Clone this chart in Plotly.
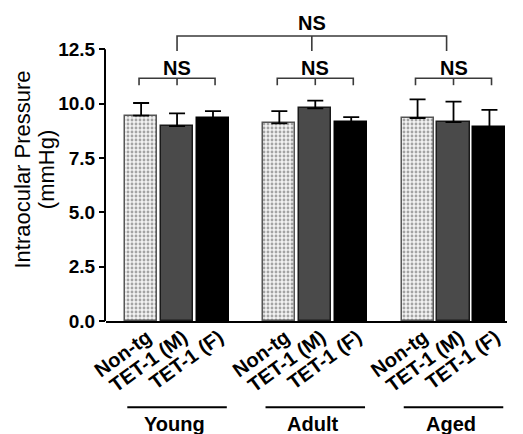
import plotly.graph_objects as go

# ---- data ----
groups = ["Young", "Adult", "Aged"]
series = ["Non-tg", "TET-1 (M)", "TET-1 (F)"]
means = {
    "Non-tg":    [9.45, 9.09, 9.34],
    "TET-1 (M)": [8.97, 9.78, 9.15],
    "TET-1 (F)": [9.34, 9.15, 8.92],
}
sems = {
    "Non-tg":    [0.58, 0.57, 0.86],
    "TET-1 (M)": [0.58, 0.36, 0.94],
    "TET-1 (F)": [0.32, 0.23, 0.79],
}
y_ticks = [0, 2.5, 5.0, 7.5, 10.0, 12.5]
y_ticklabels = ["0.0", "2.5", "5.0", "7.5", "10.0", "12.5"]
sig_label = "NS"
inner_bracket_y = 11.17
outer_bracket_y = 13.11

# ---- layout helpers (positions) ----
step = 0.26
bar_w = 0.232
styles = {
    "Non-tg": dict(color="#f2f2f2", line=dict(color="#555555", width=1.5),
                   pattern=dict(shape=".", fgcolor="#555555", bgcolor="#f2f2f2",
                                size=4, solidity=0.4)),
    "TET-1 (M)": dict(color="#4a4a4a", line=dict(color="#1a1a1a", width=1.5)),
    "TET-1 (F)": dict(color="#000000", line=dict(color="#000000", width=1.5)),
}
FONT = "Liberation Sans, Arial, sans-serif"

fig = go.Figure()
tickvals, ticktext = [], []
for i, s in enumerate(series):
    xs = [g + (i - 1) * step for g in range(len(groups))]
    tickvals += xs
    ticktext += [s] * len(groups)
    fig.add_trace(go.Bar(
        x=xs, y=means[s], width=bar_w, name=s,
        marker=styles[s],
        error_y=dict(type="data", symmetric=False, array=sems[s],
                     arrayminus=[0] * len(groups), color="#000000",
                     thickness=1.8, width=8),
        showlegend=False,
    ))

shapes = []
line_style = dict(color="#3a3a3a", width=1.6)
# inner brackets
for g in range(len(groups)):
    l, r = g - 0.275, g + 0.275
    y0 = inner_bracket_y - 0.32
    shapes.append(dict(type="path", xref="x", yref="y",
                       path=f"M {l},{y0} L {l},{inner_bracket_y} L {r},{inner_bracket_y} L {r},{y0}",
                       line=line_style))
    shapes.append(dict(type="line", xref="x", yref="y", x0=g, x1=g,
                       y0=y0, y1=inner_bracket_y, line=line_style))
# outer bracket
ol, orr = 0, 1.95
oy0 = outer_bracket_y - 0.69
shapes.append(dict(type="path", xref="x", yref="y",
                   path=f"M {ol},{oy0} L {ol},{outer_bracket_y} L {orr},{outer_bracket_y} L {orr},{oy0}",
                   line=line_style))
shapes.append(dict(type="line", xref="x", yref="y", x0=(ol + orr) / 2, x1=(ol + orr) / 2,
                   y0=oy0, y1=outer_bracket_y, line=line_style))
# y-axis line from 0 to 12.5
shapes.append(dict(type="line", xref="paper", yref="y", x0=-0.0025, x1=-0.0025,
                   y0=0, y1=y_ticks[-1], line=dict(color="black", width=2)))
# group underlines
for g in range(len(groups)):
    shapes.append(dict(type="line", xref="x", yref="paper", x0=g - 0.36, x1=g + 0.36,
                       y0=-0.285, y1=-0.285, line=dict(color="black", width=2)))

annotations = []
for g, name in enumerate(groups):
    annotations.append(dict(x=g - 0.02, y=-0.34, xref="x", yref="paper", text=f"<b>{name}</b>",
                            showarrow=False, font=dict(size=20, color="black", family=FONT),
                            xanchor="center", yanchor="middle"))
    annotations.append(dict(x=g, y=inner_bracket_y + 0.47, xref="x", yref="y",
                            text=f"<b>{sig_label}</b>", showarrow=False,
                            font=dict(size=20, color="black", family=FONT),
                            xanchor="center", yanchor="middle"))
annotations.append(dict(x=(ol + orr) / 2, y=outer_bracket_y + 0.62, xref="x", yref="y",
                        text=f"<b>{sig_label}</b>", showarrow=False,
                        font=dict(size=20, color="black", family=FONT),
                        xanchor="center", yanchor="middle"))
# y-axis title (two lines)
annotations.append(dict(x=-0.207, y=0.5, xref="paper", yref="paper", text="Intraocular Pressure",
                        textangle=-90, showarrow=False,
                        font=dict(size=22, color="black", family=FONT),
                        xanchor="center", yanchor="middle"))
annotations.append(dict(x=-0.148, y=0.5, xref="paper", yref="paper", text="(mmHg)",
                        textangle=-90, showarrow=False,
                        font=dict(size=22, color="black", family=FONT),
                        xanchor="center", yanchor="middle"))

fig.update_layout(
    width=515, height=426,
    margin=dict(l=98, r=16, t=10, b=113),
    paper_bgcolor="white", plot_bgcolor="white",
    bargap=0,
    shapes=shapes, annotations=annotations,
    xaxis=dict(range=[-0.514, 2.387], tickvals=tickvals,
               ticktext=[f"<b>{t}</b>" for t in ticktext],
               tickangle=-36, ticks="", showline=True, linecolor="black", linewidth=2,
               showgrid=False, zeroline=False, ticklabelshift=6, ticklabelstandoff=-5,
               tickfont=dict(size=20, color="black", family=FONT)),
    yaxis=dict(range=[0, 13.94], tickvals=y_ticks,
               ticktext=[f"<b>{t}</b>" for t in y_ticklabels],
               ticks="outside", ticklen=6, tickwidth=2, tickcolor="black",
               showline=False, showgrid=False, zeroline=False,
               tickfont=dict(size=19, color="black", family=FONT)),
)

fig.write_html("out.html")
